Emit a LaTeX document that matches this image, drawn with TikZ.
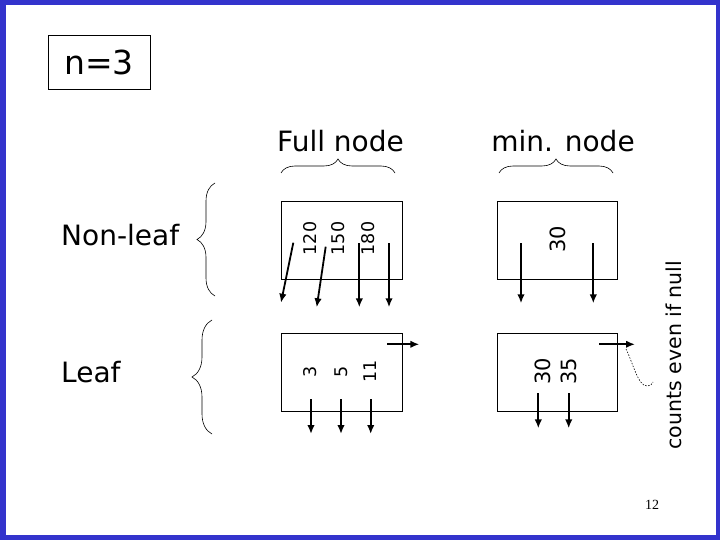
\documentclass[tikz,border=0pt]{standalone}
\usepackage{fontspec}
\setmainfont{DejaVu Sans}
\newfontfamily\pgnumfont{Liberation Serif}
\usetikzlibrary{arrows.meta,decorations.pathreplacing}
\definecolor{frameblue}{RGB}{51,51,204}
\tikzset{
  box/.style={draw,line width=0.8pt,minimum width=121pt,minimum height=78pt,inner sep=0pt},
  bignum/.style={rotate=90,inner sep=0pt,font=\fontsize{17.5}{17.5}\selectfont},
  minnum/.style={rotate=90,inner sep=0pt,font=\fontsize{21}{21}\selectfont},
  label/.style={inner sep=0pt,font=\fontsize{28}{28}\selectfont},
  ptr/.style={line width=1.8pt,-{Latex[length=9pt,width=7.5pt]}},
  brc/.style={line width=0.6pt,decorate,decoration={brace,amplitude=#1}},
}
\begin{document}
\begin{tikzpicture}[x=1pt,y=-1pt]
\useasboundingbox (0,0) rectangle (720,540);
\fill[frameblue] (0,0) rectangle (720,540);
\fill[white] (6,5) rectangle (716,535);
% n=3
\node[draw,line width=0.8pt,minimum width=102pt,minimum height=54pt,inner sep=0pt,font=\fontsize{33}{33}\selectfont] (n3) at (99,62) {n=3};
% headings
\node[label,anchor=base] (fullt) at (340.5,152) {Full node};
\node[label,anchor=base] (mint) at (563,152) {min. node};
\node[label,anchor=base west] (nonleaf) at (61,245) {Non-leaf};
\node[label,anchor=base west] (leaf) at (61,382) {Leaf};
% braces
\draw[brc=14pt] (281,173) -- (395,173);
\draw[brc=14pt] (499,173) -- (613,173);
\draw[brc=18pt] (215,296) -- (215,183);
\draw[brc=20pt] (212,434) -- (212,320);
% boxes
\node[box] (fnl) at (341.5,240) {};
\node[box] (fl) at (341.5,372) {};
\node[box,minimum width=120pt] (mnl) at (557,240) {};
\node[box,minimum width=120pt] (ml) at (557,372) {};
% numbers
\node[bignum] (k120) at (310.5,238.5) {120};
\node[bignum] (k150) at (338.5,238.5) {150};
\node[bignum] (k180) at (368,238.5) {180};
\node[bignum] (k3) at (310,371.5) {3};
\node[bignum] (k5) at (341,371.5) {5};
\node[bignum] (k11) at (370,371.5) {11};
\node[minnum] (m30) at (558,239.5) {30};
\node[minnum] (l30) at (542.5,371.5) {30};
\node[minnum] (l35) at (569,371.5) {35};
% pointer coordinates
\coordinate (a1s) at (293.3,242.7); \coordinate (a1e) at (281,302.7);
\coordinate (a2s) at (325.7,246.7); \coordinate (a2e) at (316.7,307.3);
\coordinate (a3s) at (359.3,243.3); \coordinate (a3e) at (359.3,307.3);
\coordinate (a4s) at (389,243.3);   \coordinate (a4e) at (389,307.3);
\coordinate (b1s) at (311,399);   \coordinate (b1e) at (311,434);
\coordinate (b2s) at (341,399);   \coordinate (b2e) at (341,434);
\coordinate (b3s) at (370.7,399); \coordinate (b3e) at (370.7,434);
\coordinate (brs) at (387.3,344.3); \coordinate (bre) at (419.3,344.3);
\coordinate (c1s) at (521,243.3);   \coordinate (c1e) at (521,303.3);
\coordinate (c2s) at (593.3,243.3); \coordinate (c2e) at (593.3,303.3);
\coordinate (d1s) at (538.3,393.3); \coordinate (d1e) at (538.3,428.3);
\coordinate (d2s) at (568.7,393.3); \coordinate (d2e) at (568.7,428.3);
\coordinate (drs) at (599,344.3);   \coordinate (dre) at (635,344.3);
\foreach \p in {a1,a2,a3,a4,b1,b2,b3,br,c1,c2,d1,d2,dr}
  \draw[ptr] (\p s) -- (\p e);
% note
\node[rotate=90,anchor=base,inner sep=0pt,font=\fontsize{20.5}{20.5}\selectfont] (note) at (681,355) {counts even if null};
\coordinate (cs) at (626,349);
\coordinate (ce) at (653,382);
\draw[line width=0.6pt,dash pattern=on 1.5pt off 1.5pt] (cs) .. controls (633,363) and (638,386) .. (647,386) .. controls (650,386) and (652,385) .. (ce);
% page number
\node[anchor=base,inner sep=0pt,font=\pgnumfont\fontsize{14}{14}\selectfont] (pg) at (652,509) {12};
\end{tikzpicture}
\end{document}
